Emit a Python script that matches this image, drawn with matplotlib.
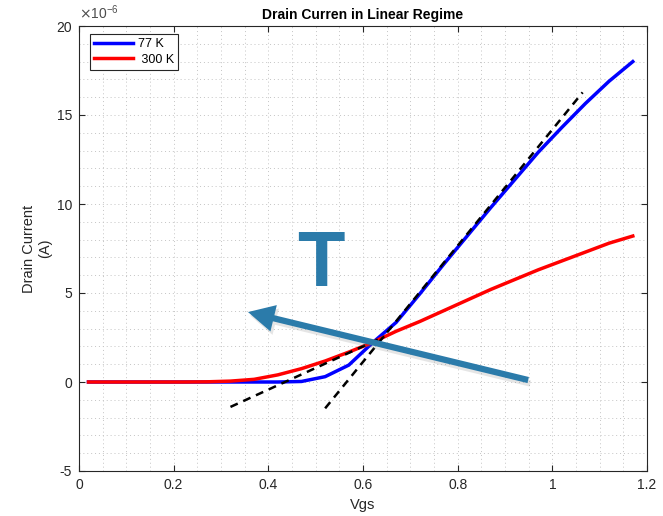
import matplotlib
matplotlib.use("Agg")
import matplotlib.pyplot as plt
import matplotlib.patheffects as pe
from matplotlib.ticker import MultipleLocator, FuncFormatter
from matplotlib.patches import FancyArrowPatch

# Gate voltage sweep (V)
vgs = [0.02, 0.07, 0.12, 0.17, 0.22, 0.27, 0.32, 0.37, 0.42, 0.47, 0.52, 0.57,
       0.62, 0.67, 0.72, 0.77, 0.82, 0.87, 0.92, 0.97, 1.02, 1.07, 1.12, 1.17]

# Drain current in units of 1e-6 A
id_77k = [0.0, 0.0, 0.0, 0.0, 0.0, 0.0, 0.0, 0.0, 0.0, 0.03, 0.3, 0.95,
          2.2, 3.35, 4.95, 6.6, 8.2, 9.8, 11.35, 12.9, 14.3, 15.65, 16.9, 18.0]
id_300k = [0.0, 0.0, 0.0, 0.0, 0.0, 0.01, 0.05, 0.15, 0.4, 0.75, 1.18, 1.68,
           2.22, 2.85, 3.4, 4.0, 4.6, 5.2, 5.75, 6.3, 6.8, 7.3, 7.8, 8.2]

# Linear extrapolation lines (threshold estimates)
tangent_77k_v = [0.52, 1.064]
tangent_77k_i = [-1.48, 16.27]
tangent_300k_v = [0.32, 0.645]
tangent_300k_i = [-1.4, 2.55]

# Temperature-trend arrow (tail -> head) in data units
arrow_tail = (0.949, 0.11)
arrow_head = (0.357, 3.93)

SCALE = 1e-6
plt.rcParams["font.family"] = ["Liberation Sans", "DejaVu Sans"]

fig = plt.figure(figsize=(6.63, 5.16), dpi=100)
ax = fig.add_axes([79 / 663, 1 - 471 / 516, 568 / 663, 445 / 516])

ax.plot(vgs, [v * SCALE for v in id_77k], color="#0000ff", lw=2.5,
        label="77 K", solid_joinstyle="round", zorder=3)
ax.plot(vgs, [v * SCALE for v in id_300k], color="#ff0000", lw=2.5,
        label=" 300 K", solid_joinstyle="round", zorder=3)
ax.plot(tangent_77k_v, [v * SCALE for v in tangent_77k_i], color="black",
        lw=1.8, ls=(0, (3.2, 2.4)), zorder=4)
ax.plot(tangent_300k_v, [v * SCALE for v in tangent_300k_i], color="black",
        lw=1.8, ls=(0, (3.2, 2.4)), zorder=4)

ax.set_xlim(0, 1.2)
ax.set_ylim(-5 * SCALE, 20 * SCALE)
ax.xaxis.set_major_locator(MultipleLocator(0.2))
ax.xaxis.set_minor_locator(MultipleLocator(0.05))
ax.yaxis.set_major_locator(MultipleLocator(5 * SCALE))
ax.yaxis.set_minor_locator(MultipleLocator(1 * SCALE))
ax.xaxis.set_major_formatter(FuncFormatter(lambda v, p: f"{v:g}"))
ax.yaxis.set_major_formatter(FuncFormatter(lambda v, p: f"{round(v / SCALE):d}"))

ax.tick_params(which="major", direction="in", length=4, width=0.8,
               top=True, right=True, labelsize=10, colors="#262626", pad=5)
ax.tick_params(which="minor", length=0, top=True, right=True)
ax.grid(which="both", ls=(0, (1, 3)), lw=0.7, color="#c4c4c4")
ax.set_axisbelow(True)
for s in ax.spines.values():
    s.set_color("#262626")
    s.set_linewidth(0.8)

ax.text(0.0, 1.008, r"$\times$10$^{\mathregular{-6}}$", transform=ax.transAxes,
        fontsize=10, color="#4d4d4d", ha="left", va="bottom")

ax.set_title("Drain Curren in Linear Regime", fontsize=10, fontweight="bold",
             pad=5)
ax.set_xlabel("Vgs", fontsize=10.5, color="#262626", labelpad=4)
ax.set_ylabel("Drain Current\n(A)", fontsize=10.5, color="#262626",
              labelpad=3)

leg = ax.legend(loc="upper left", bbox_to_anchor=(0.0194, 0.982),
                borderaxespad=0, fontsize=9, handlelength=3.1,
                handletextpad=0.35, labelspacing=0.25, borderpad=0.35,
                fancybox=False, framealpha=1, edgecolor="#262626")
leg.get_frame().set_linewidth(0.8)

arrow_color = "#2b7baa"
arr = FancyArrowPatch((arrow_tail[0], arrow_tail[1] * SCALE),
                      (arrow_head[0], arrow_head[1] * SCALE),
                      arrowstyle="simple,head_length=1.9,head_width=1.95,tail_width=0.45",
                      mutation_scale=10, lw=0, color=arrow_color,
                      shrinkA=0, shrinkB=0, zorder=6,
                      path_effects=[pe.withSimplePatchShadow(offset=(1.5, -2.5),
                                                             shadow_rgbFace="gray",
                                                             alpha=0.2)])
ax.add_patch(arr)

ax.text(0.511, 6.52 * SCALE, "T", fontsize=56, fontweight="bold",
        family=["Liberation Sans"],
        color=arrow_color, ha="center", va="center", zorder=6)

fig.savefig("out.png", dpi=100)
